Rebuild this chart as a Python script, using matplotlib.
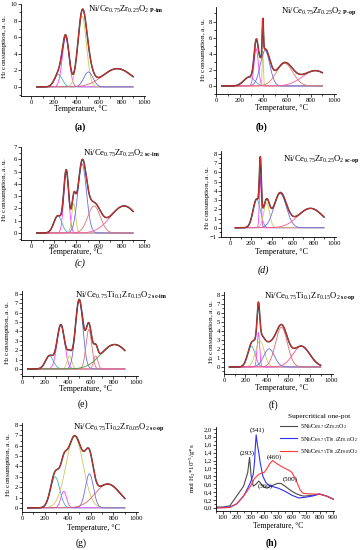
import numpy as np
import matplotlib
matplotlib.use("Agg")
import matplotlib.pyplot as plt
from matplotlib.ticker import MultipleLocator, FuncFormatter

plt.rcParams['font.family'] = ['Liberation Serif', 'DejaVu Serif']
plt.rcParams['mathtext.fontset'] = 'custom'
plt.rcParams['mathtext.rm'] = 'Liberation Serif'
plt.rcParams['mathtext.it'] = 'Liberation Serif:italic'
plt.rcParams['mathtext.bf'] = 'Liberation Serif:bold'

# ---- deconvolution peaks (a)-(g): centre (C), height, sigma (C)
a_center = [240, 305, 450, 505, 760]
a_height = [1.5, 6.0, 8.5, 1.8, 2.2]
a_sigma = [35, 30, 38, 40, 130]

b_center = [280, 340, 396, 415, 580, 840]
b_height = [1.1, 4.6, 4.3, 4.4, 2.8, 1.9]
b_sigma = [45, 18, 5, 40, 70, 110]

c_center = [235, 310, 375, 450, 555, 820]
c_height = [1.4, 5.0, 2.4, 5.6, 2.2, 2.2]
c_sigma = [35, 22, 17, 38, 55, 120]

d_center = [255, 290, 350, 480, 770]
d_height = [3.1, 5.5, 2.7, 3.7, 2.1]
d_sigma = [35, 9, 28, 60, 120]

e_center = [240, 340, 415, 500, 585, 645, 810]
e_height = [1.4, 4.7, 1.4, 7.3, 4.2, 1.4, 2.6]
e_sigma = [35, 33, 20, 33, 25, 18, 120]

f_center = [255, 320, 335, 420, 535, 720]
f_height = [2.3, 3.8, 2.9, 2.0, 4.4, 2.3]
f_sigma = [35, 12, 40, 50, 55, 80]

g_center = [290, 365, 460, 590, 750]
g_height = [3.0, 1.6, 6.9, 3.3, 2.3]
g_sigma = [40, 25, 75, 35, 110]

# ---- panel (h): measured TPR profiles
h_temp = [50, 100, 150, 200, 250, 280, 293, 305, 320, 340, 360, 380, 400, 420, 450,
          480, 500, 520, 550, 580, 600, 630, 660, 680, 700, 750, 800, 850, 900]
h_czo = [0.02, 0.02, 0.05, 0.30, 0.55, 0.90, 1.28, 0.80, 0.55, 0.60, 0.68, 0.60, 0.52,
         0.50, 0.55, 0.60, 0.62, 0.62, 0.55, 0.47, 0.42, 0.36, 0.32, 0.30, 0.30, 0.32,
         0.35, 0.30, 0.22]
h_temp_b = [50, 100, 150, 200, 250, 280, 300, 320, 330, 335, 341, 350, 360, 370, 390,
            410, 430, 450, 500, 550, 600, 650, 700, 750, 800, 850, 900]
h_ctz1 = [0.0, 0.01, 0.02, 0.10, 0.30, 0.50, 0.65, 0.85, 1.20, 1.55, 1.85, 1.60, 1.40,
          1.15, 0.80, 0.65, 0.58, 0.55, 0.50, 0.42, 0.32, 0.25, 0.27, 0.30, 0.35, 0.30, 0.22]
h_temp_r = [50, 100, 150, 200, 250, 300, 330, 360, 380, 400, 420, 440, 460, 480, 500,
            550, 580, 600, 630, 660, 680, 700, 750, 800, 850, 900]
h_ctz2 = [0.0, 0.0, 0.01, 0.10, 0.30, 0.55, 0.75, 0.85, 0.88, 0.90, 1.00, 1.12, 1.20,
          1.15, 1.10, 1.00, 0.95, 0.90, 0.70, 0.45, 0.37, 0.36, 0.35, 0.35, 0.30, 0.22]
h_labels = [r"5Ni/Ce$_{0.75}$Zr$_{0.25}$O$_2$",
            r"5Ni/Ce$_{0.75}$Ti$_{0.1}$Zr$_{0.15}$O$_2$",
            r"5Ni/Ce$_{0.75}$Ti$_{0.2}$Zr$_{0.05}$O$_2$"]
h_peaks = ["(293)", "(341)", "(460)", "(360)", "(500)"]
h_peak_x = [278, 346, 470, 410, 585]
h_peak_y = [1.38, 1.97, 1.28, 0.55, 0.73]

W, H = 362, 550
fig = plt.figure(figsize=(W / 100, H / 100), dpi=100)


def box(l, t, r, b):
    return [l / W, 1 - b / H, (r - l) / W, (b - t) / H]


def ftext(x, y, s, **kw):
    fig.text(x / W, 1 - y / H, s, **kw)


def style(ax, xmaj, ymaj):
    for sp in ['top', 'right']:
        ax.spines[sp].set_visible(False)
    for sp in ['left', 'bottom']:
        ax.spines[sp].set_linewidth(0.6)
    ax.xaxis.set_major_locator(MultipleLocator(xmaj))
    ax.xaxis.set_minor_locator(MultipleLocator(xmaj / 2))
    ax.yaxis.set_major_locator(MultipleLocator(ymaj))
    ax.yaxis.set_minor_locator(MultipleLocator(ymaj / 2))
    ax.tick_params(which='both', direction='out', labelsize=4.8, width=0.5, pad=0.8)
    ax.tick_params(which='major', length=2.0)
    ax.tick_params(which='minor', length=1.1)
    ax.set_facecolor('none')


T = np.arange(50, 901, 2)

panels = [
    # centre, height, sigma, colours, box, xlim, ylim, ystep, title, title pos, ylabel pos, xlabel pos, tag, tag pos, tag style
    (a_center, a_height, a_sigma,
     ['#3fb3b3', '#ff3cff', '#c9c95a', '#6b6be6', '#e06565'],
     (21, 4, 145, 96), (-90, 1005), (-1.1, 10), 2,
     r"Ni/Ce$_{0.75}$Zr$_{0.25}$O$_{2}$$_{\ \mathbf{P\text{-}im}}$", (88, 12), (5, 47), (80, 109),
     "(a)", (80, 127), 'bold'),
    (b_center, b_height, b_sigma,
     ['#3fb3b3', '#ff3cff', '#c9c95a', '#6b6be6', '#e07a6a', '#ff5a9a'],
     (216, 7, 336, 94), (0, 1015), (-1.0, 9.8), 2,
     r"Ni/Ce$_{0.75}$Zr$_{0.25}$O$_{2}$$_{\ \mathbf{P\text{-}op}}$", (281, 13), (204, 50), (281, 108),
     "(b)", (262, 127), 'bold'),
    (c_center, c_height, c_sigma,
     ['#3fb3b3', '#ff3cff', '#c9c95a', '#6b6be6', '#e07070', '#ff5a9a'],
     (21, 147, 145, 240), (-90, 1005), (-0.57, 7), 1,
     r"Ni/Ce$_{0.75}$Zr$_{0.25}$O$_{2}$$_{\ \mathbf{sc\text{-}im}}$", (83, 156), (5, 190), (75, 252),
     "(c)", (80, 263), 'italic'),
    (d_center, d_height, d_sigma,
     ['#3fb3b3', '#ff3cff', '#c9c95a', '#6b6be6', '#ff5a8a'],
     (221, 151, 336, 237), (-87, 1015), (-1.0, 8.3), 1,
     r"Ni/Ce$_{0.75}$Zr$_{0.25}$O$_{2}$$_{\ \mathbf{sc\text{-}op}}$", (283, 161), (207, 198), (281, 252),
     "(d)", (263, 270), 'italic'),
    (e_center, e_height, e_sigma,
     ['#3fb3b3', '#ff3cff', '#c9c95a', '#6b6be6', '#e07070', '#ff6a9a', '#3d9e3d'],
     (22, 291, 138, 376), (0, 1015), (-0.75, 8.3), 1,
     r"Ni/Ce$_{0.75}$Ti$_{0.1}$Zr$_{0.15}$O$_{2}$$_{\ \mathbf{sc\text{-}im}}$", (75, 298), (8, 333), (85, 389),
     "(e)", (83, 404), 'normal'),
    (f_center, f_height, f_sigma,
     ['#3fb3b3', '#ff3cff', '#c9c95a', '#6b6be6', '#e06a6a', '#ff4aa0'],
     (224, 292, 333, 374), (0, 1015), (-0.78, 8.3), 1,
     r"Ni/Ce$_{0.75}$Ti$_{0.1}$Zr$_{0.15}$O$_{2}$$_{\ \mathbf{sc\text{-}op}}$", (264, 298), (211, 332), (281, 388),
     "(f)", (273, 405), 'normal'),
    (g_center, g_height, g_sigma,
     ['#3fb3b3', '#ff3cff', '#c9c95a', '#6b6be6', '#e06060'],
     (22, 423, 138, 512), (0, 1015), (-0.4, 8.2), 1,
     r"Ni/Ce$_{0.75}$Ti$_{0.2}$Zr$_{0.05}$O$_{2}$$_{\ \mathbf{sc\text{-}op}}$", (73, 429), (9, 465), (93, 528),
     "(g)", (81, 543), 'normal'),
]

for (cen, hgt, sig, cols, bx, xl, yl, ystep, title, tpos, ypos, xpos,
     tag, tagpos, tagstyle) in panels:
    ax = fig.add_axes(box(*bx))
    total = np.zeros_like(T, dtype=float)
    for c, h, s, col in zip(cen, hgt, sig, cols):
        comp = h * np.exp(-(T - c) ** 2 / (2.0 * s ** 2))
        total += comp
        ax.plot(T, comp, color=col, lw=0.6)
    ax.plot(T, total, color='#333333', lw=1.1)
    ax.plot(T, total, color='#e8302a', lw=0.6)
    ax.set_xlim(*xl)
    ax.set_ylim(*yl)
    style(ax, 200, 2 if ystep == 2 else 1)
    ftext(tpos[0], tpos[1], title, fontsize=6.2, va='baseline', ha='left')
    ftext(ypos[0], ypos[1], r"H$_2$ consumption, a. u.", fontsize=5.2,
          rotation=90, ha='center', va='center')
    ftext(xpos[0], xpos[1], "Temperature, \u00b0C", fontsize=5.8, ha='center', va='center')
    if tagstyle == 'bold':
        ftext(tagpos[0], tagpos[1], tag, fontsize=7, fontweight='bold', ha='center', va='center')
    elif tagstyle == 'italic':
        ftext(tagpos[0], tagpos[1], tag, fontsize=7, fontstyle='italic', ha='center', va='center')
    else:
        ftext(tagpos[0], tagpos[1], tag, fontsize=7, ha='center', va='center')

# ---- panel (h)
axh = fig.add_axes(box(216, 427, 334, 511))
axh.plot(h_temp, h_czo, color='#4a4a4a', lw=0.8, label=h_labels[0])
axh.plot(h_temp_b, h_ctz1, color='#2f2fff', lw=0.8, label=h_labels[1])
axh.plot(h_temp_r, h_ctz2, color='#ff3a3a', lw=0.8, label=h_labels[2])
axh.set_xlim(50, 905)
axh.set_ylim(-0.08, 2.05)
style(axh, 100, 0.2)
axh.xaxis.set_minor_locator(MultipleLocator(50))
axh.yaxis.set_minor_locator(MultipleLocator(0.1))
axh.yaxis.set_major_formatter(FuncFormatter(lambda v, p: ("%.1f" % v).replace('.', ',')))
for s, x, y in zip(h_peaks, h_peak_x, h_peak_y):
    axh.text(x, y, s, fontsize=5, ha='center', va='center')
ftext(193, 468, r"mol H$_2$*10$^{-5}$/g*s", fontsize=5, rotation=90, ha='center', va='center')
ftext(278, 526, "Temperature, \u00b0C", fontsize=5.5, ha='center', va='center')
ftext(271, 543, "(h)", fontsize=7, fontweight='bold', ha='center', va='center')
leg = axh.legend(loc='upper left', bbox_to_anchor=(280 / W, 1 - 414 / H),
                 bbox_transform=fig.transFigure, frameon=False, fontsize=4.4,
                 title="Supercritical one-pot", title_fontsize=5.3,
                 handlelength=2.8, handletextpad=0.4, labelspacing=0.55,
                 borderpad=0, borderaxespad=0)

fig.savefig("out.png", dpi=100)
